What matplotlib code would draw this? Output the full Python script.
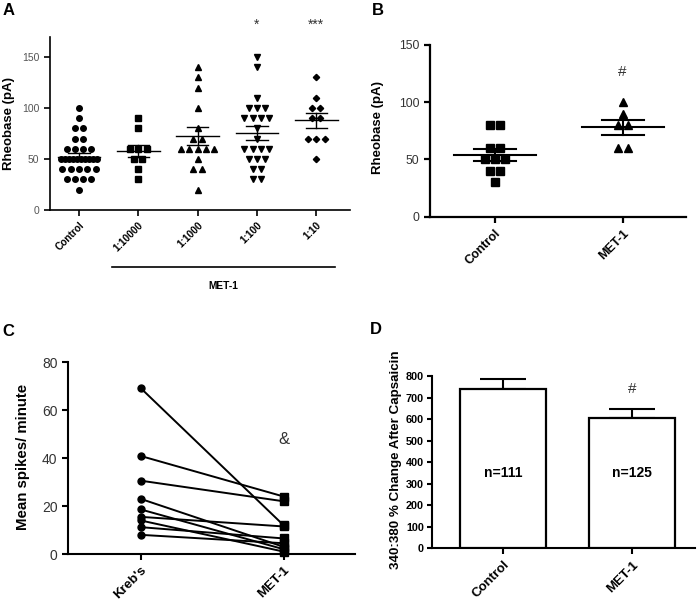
import numpy as np
import matplotlib
matplotlib.use("Agg")
import matplotlib.pyplot as plt
from matplotlib.lines import Line2D

plt.rcParams['font.family'] = ['Liberation Sans', 'DejaVu Sans']

# ---------------- Data ----------------
# Panel A: rheobase (pA) per MET-1 dilution
a_categories = ["Control", "1:10000", "1:1000", "1:100", "1:10"]
a_control = [100, 90, 80, 80, 70, 70, 60, 60, 60, 60,
             50, 50, 50, 50, 50, 50, 50, 50, 50, 50,
             40, 40, 40, 40, 40, 30, 30, 30, 30, 20]
a_1_10000 = [90, 80, 60, 60, 60, 50, 50, 40, 30]
a_1_1000 = [140, 130, 120, 100, 80, 70, 70, 60, 60, 60, 60, 60, 50, 40, 40, 20]
a_1_100 = [150, 140, 110, 100, 100, 100, 90, 90, 90, 90, 80, 70,
           60, 60, 60, 60, 50, 50, 50, 40, 40, 30, 30]
a_1_10 = [130, 110, 100, 100, 90, 90, 70, 70, 70, 50]
a_markers = ["o", "s", "^", "v", "D"]
a_sig = ["", "", "", "*", "***"]

# Panel B: rheobase (pA)
b_categories = ["Control", "MET-1"]
b_control = [80, 80, 60, 60, 50, 50, 50, 40, 40, 30]
b_met1 = [100, 90, 80, 80, 60, 60]

# Panel C: mean spikes / minute (paired)
c_categories = ["Kreb's", "MET-1"]
c_krebs = [69.2, 40.9, 30.6, 23.0, 18.6, 15.5, 14.0, 11.2, 8.0]
c_met1 = [12.0, 24.0, 22.0, 3.0, 2.0, 11.5, 1.0, 6.5, 4.5]

# Panel D: 340:380 % change after capsaicin
d_categories = ["Control", "MET-1"]
d_means = [738, 605]
d_sem = [47, 43]
d_n_labels = ["n=111", "n=125"]

# ---------------- Helpers ----------------
def swarm_offsets(vals, d0, maxw):
    vals = np.asarray(vals, dtype=float)
    offs = np.zeros_like(vals)
    for v in np.unique(vals):
        idx = np.where(vals == v)[0]
        k = len(idx)
        if k > 1:
            d = min(d0, maxw / (k - 1))
            offs[idx] = (np.arange(k) - (k - 1) / 2) * d
    return offs


def mean_sem(ax, x, vals, half_mean, half_cap, lw):
    vals = np.asarray(vals, dtype=float)
    m = vals.mean()
    s = vals.std(ddof=1) / np.sqrt(len(vals))
    ax.plot([x - half_mean, x + half_mean], [m, m], color="black", lw=lw, zorder=4)
    ax.plot([x - half_cap, x + half_cap], [m + s, m + s], color="black", lw=lw, zorder=4)
    ax.plot([x - half_cap, x + half_cap], [m - s, m - s], color="black", lw=lw, zorder=4)
    ax.plot([x, x], [m - s, m + s], color="black", lw=lw, zorder=4)


def style_axes(ax, lw):
    for sp in ["top", "right"]:
        ax.spines[sp].set_visible(False)
    for sp in ["left", "bottom"]:
        ax.spines[sp].set_linewidth(lw)
    ax.tick_params(direction="out", width=lw, length=4)


fig = plt.figure(figsize=(7.0, 6.07), dpi=100)

# ---------------- Panel A ----------------
axA = fig.add_axes([0.0714, 0.654, 0.4286, 0.2857])
style_axes(axA, 1.2)
a_groups = [a_control, a_1_10000, a_1_1000, a_1_100, a_1_10]
for i, (vals, mk) in enumerate(zip(a_groups, a_markers)):
    offs = swarm_offsets(vals, 0.14, 0.62)
    ms = 3.2 if mk == "D" else 4.0
    axA.plot(i + offs, vals, linestyle="none", marker=mk, color="black",
             markersize=ms, zorder=3, clip_on=False)
    mean_sem(axA, i, vals, 0.36, 0.18, 1.0)
    if a_sig[i]:
        axA.text(i, 1.07, a_sig[i], transform=axA.get_xaxis_transform(),
                 ha="center", va="center", fontsize=10, color="#333333")
axA.set_xlim(-0.49, 4.57)
axA.set_ylim(0, 170)
axA.set_yticks([0, 50, 100, 150])
axA.tick_params(axis="y", labelsize=7.5, labelcolor="#555555")
axA.set_xticks(range(len(a_categories)))
axA.set_xticklabels(a_categories, rotation=45, ha="right", rotation_mode="anchor",
                    fontsize=7.3, fontweight="bold")
axA.set_ylabel("Rheobase (pA)", fontsize=9.5, fontweight="bold")
axA.yaxis.set_label_coords(-0.117, 0.5)
trA = axA.get_xaxis_transform()
axA.add_line(Line2D([0.56, 4.32], [-0.329, -0.329], transform=trA, color="black",
                    lw=1.2, clip_on=False))
axA.text(2.44, -0.44, "MET-1", transform=trA, ha="center", va="center",
         fontsize=7.3, fontweight="bold")
fig.text(0.003, 0.995, "A", ha="left", va="top", fontsize=12, fontweight="bold")

# ---------------- Panel B ----------------
axB = fig.add_axes([0.614, 0.643, 0.3667, 0.2829])
style_axes(axB, 1.6)
b_groups = [b_control, b_met1]
for i, (vals, mk) in enumerate(zip(b_groups, ["s", "^"])):
    offs = swarm_offsets(vals, 0.08, 0.5)
    axB.plot(i + offs, vals, linestyle="none", marker=mk, color="black",
             markersize=5.2, zorder=3)
    mean_sem(axB, i, vals, 0.32, 0.165, 1.5)
axB.text(1, 126, "#", ha="center", va="center", fontsize=11, color="#333333")
axB.set_xlim(-0.51, 1.5)
axB.set_ylim(0, 150)
axB.set_yticks([0, 50, 100, 150])
axB.tick_params(axis="y", labelsize=8.8, labelcolor="#333333")
axB.set_xticks(range(len(b_categories)))
axB.set_xticklabels(b_categories, rotation=45, ha="right", rotation_mode="anchor",
                    fontsize=9, fontweight="bold")
axB.set_ylabel("Rheobase (pA)", fontsize=9.5, fontweight="bold")
axB.yaxis.set_label_coords(-0.179, 0.517)
fig.text(0.531, 0.995, "B", ha="left", va="top", fontsize=12, fontweight="bold")

# ---------------- Panel C ----------------
axC = fig.add_axes([0.0971, 0.0873, 0.41, 0.3158])
style_axes(axC, 1.5)
for k, m in zip(c_krebs, c_met1):
    axC.plot([0, 1], [k, m], color="black", lw=1.4, zorder=2)
axC.plot(np.zeros(len(c_krebs)), c_krebs, linestyle="none", marker="o",
         color="black", markersize=5, zorder=3)
axC.plot(np.ones(len(c_met1)), c_met1, linestyle="none", marker="s",
         color="black", markersize=5.5, zorder=3, clip_on=False)
axC.text(1, 47.6, "&", ha="center", va="center", fontsize=12, color="#333333")
axC.set_xlim(-0.51, 1.5)
axC.set_ylim(0, 80)
axC.set_yticks([0, 20, 40, 60, 80])
axC.tick_params(axis="y", labelsize=10, labelcolor="#333333")
axC.set_xticks(range(len(c_categories)))
axC.set_xticklabels(c_categories, rotation=45, ha="right", rotation_mode="anchor",
                    fontsize=9.5, fontweight="bold")
axC.set_ylabel("Mean spikes/ minute", fontsize=10.8, fontweight="bold")
axC.yaxis.set_label_coords(-0.132, 0.509)
fig.text(0.004, 0.467, "C", ha="left", va="top", fontsize=12, fontweight="bold")

# ---------------- Panel D ----------------
axD = fig.add_axes([0.6167, 0.0967, 0.376, 0.2839])
style_axes(axD, 1.5)
xD = np.arange(len(d_categories))
axD.errorbar(xD, d_means, yerr=[np.zeros(len(d_sem)), d_sem], fmt="none",
             ecolor="black", elinewidth=1.5, capsize=16.5, capthick=1.5, zorder=2)
axD.bar(xD, d_means, width=0.67, color="white", edgecolor="black", linewidth=1.6,
        zorder=3)
for x, lab in zip(xD, d_n_labels):
    axD.text(x, 350, lab, ha="center", va="center", fontsize=10, fontweight="bold")
axD.text(1, 738, "#", ha="center", va="center", fontsize=11, color="#333333")
axD.set_xlim(-0.553, 1.488)
axD.set_ylim(0, 800)
axD.set_yticks(np.arange(0, 801, 100))
axD.tick_params(axis="y", labelsize=7.8, pad=2, length=3.5)
for t in axD.get_yticklabels():
    t.set_fontweight("bold")
axD.set_xticks(xD)
axD.set_xticklabels(d_categories, rotation=45, ha="right", rotation_mode="anchor",
                    fontsize=9.5, fontweight="bold")
axD.set_ylabel("340:380 % Change After Capsaicin", fontsize=9.6, fontweight="bold")
axD.yaxis.set_label_coords(-0.112, 0.512)
fig.text(0.529, 0.470, "D", ha="left", va="top", fontsize=12, fontweight="bold")

fig.savefig("out.png", dpi=100)
